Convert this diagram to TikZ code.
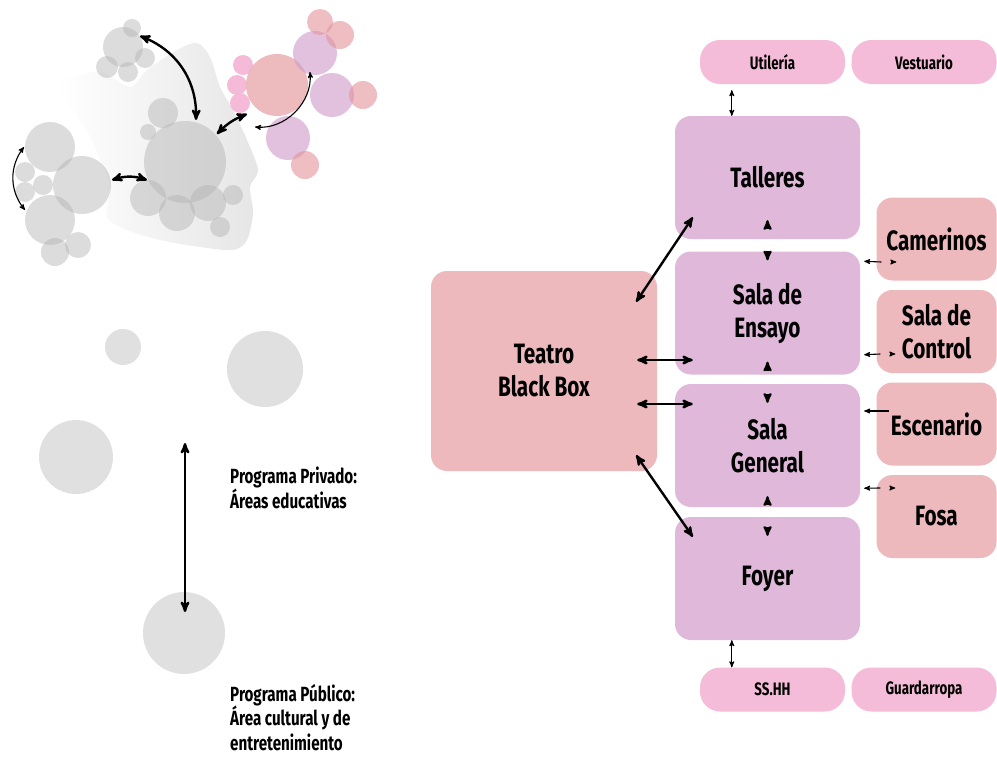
\documentclass[tikz,border=0pt]{standalone}
\usepackage{fontspec}
\setmainfont{Fira Sans}[FakeStretch=0.74]
\usetikzlibrary{arrows,calc}
\definecolor{pill}{HTML}{F4BCD8}
\definecolor{lila}{HTML}{E0B9DA}
\definecolor{rosa}{HTML}{EDB9BC}
\definecolor{gris}{HTML}{E0E0E0}
\definecolor{rojo}{HTML}{E2939B}
\definecolor{malva}{HTML}{CF98C8}
\definecolor{rosado}{HTML}{F4BAD8}

\begin{document}
\begin{tikzpicture}[x=1pt,y=-1pt,>=stealth',
  sala/.style={fill=lila,rounded corners=16pt,align=center,inner sep=0pt,
    minimum width=185pt,minimum height=123pt,font=\fontsize{28}{33}\selectfont\bfseries},
  anexo/.style={fill=rosa,rounded corners=16pt,align=center,inner sep=0pt,
    minimum width=120pt,minimum height=83pt,font=\fontsize{28}{33}\selectfont\bfseries},
  pildora/.style={fill=pill,rounded corners=20pt,inner sep=0pt,
    minimum width=145pt,minimum height=44pt,font=\fontsize{18}{21}\selectfont\bfseries},
  etiqueta/.style={align=left,inner sep=0pt,font=\fontsize{20.5}{24.5}\selectfont\bfseries},
  flecha/.style={<->,line width=2.4pt},
  punta/.style={->,line width=2.2pt,shorten <=0pt},
  fina/.style={line width=1.1pt},
  burbuja/.style={fill=black!30,fill opacity=0.45}]
\useasboundingbox (0,0) rectangle (997,756);

% esquema de burbujas
\shade[left color=white,right color=black!10]
  plot[smooth cycle] coordinates {(63,80) (100,72) (130,87) (147,70) (177,50) (197,43)
  (210,57) (220,87) (233,110) (247,140) (258,170) (250,187) (253,213) (247,240)
  (233,250) (200,247) (160,240) (127,230) (107,217) (110,187) (100,160) (87,130)
  (67,103) (58,88)};
\foreach \x/\y/\r in {123/47/20, 132/28/9, 107/67/11, 128/72/10, 145/58/10,
    50/147/25, 82/185/29, 25/172/10, 25/192/10, 43/185/10, 50/220/25, 55/252/14, 78/245/13,
    185/162/41, 163/113/15, 148/132/8, 148/198/18, 177/213/18, 208/203/18, 233/195/10, 220/227/10}
  \fill[burbuja] (\x,\y) circle (\r pt);
\foreach \x/\y in {243/65, 237/85, 240/103}
  \fill[rosado] (\x,\y) circle (10pt);
\fill[rosa!85!rojo,fill opacity=0.9] (277,85) circle (31pt);
\foreach \x/\y in {315/53, 332/95, 288/138}
  \fill[malva,fill opacity=0.6] (\x,\y) circle (22pt);
\foreach \x/\y/\r in {320/22/13, 340/35/14, 363/95/14, 305/165/14}
  \fill[rojo,fill opacity=0.6] (\x,\y) circle (\r pt);

\draw[flecha] (140,36) to[bend left=35] (196,120);
\draw[flecha] (217,134) to[bend left=12] (247,114);
\draw[flecha] (112,180) to[bend left=18] (147,180);
\draw[<->,fina] (24,147) to[bend right=38] (25,210);
\draw[<->,fina] (310,72) to[bend left=50] (255,127);

% programa privado / publico
\foreach \x/\y/\r in {123/347/18, 265/369/38, 76/457/37, 184/633/41}
  \fill[gris] (\x,\y) circle (\r pt);
\draw[flecha] (185,443) -- (185,612);
\node[etiqueta,anchor=base west] (privado) at (230,508) {Programa Privado:\\Áreas educativas};
\node[etiqueta,anchor=base west] (publico) at (230,750) {Programa Público:\\Área cultural y de\\entretenimiento};

% organigrama
\node[sala,fill=rosa,minimum width=226pt,minimum height=200pt] (teatro) at (544,371) {Teatro\\Black Box};
\node[sala] (talleres) at (767.5,177.5) {Talleres};
\node[sala] (ensayo) at (767.5,313) {Sala de\\Ensayo};
\node[sala] (general) at (767.5,445.5) {Sala\\General};
\node[sala] (foyer) at (767.5,578.5) {Foyer};
\node[anexo] (camerinos) at (936.5,239) {Camerinos};
\node[anexo] (control) at (936.5,331.5) {Sala de\\Control};
\node[anexo] (escenario) at (936.5,424) {Escenario};
\node[anexo] (fosa) at (936.5,516.5) {Fosa};
\node[pildora] (utileria) at (772.5,62) {Utilería};
\node[pildora] (vestuario) at (924,62) {Vestuario};
\node[pildora] (sshh) at (772.5,689.5) {SS.HH};
\node[pildora] (guardarropa) at (924,689.5) {Guardarropa};

\draw[flecha] ($(teatro.north east)+(-21,31)$) -- ($(talleres.south west)+(18,-22)$);
\draw[flecha] ($(teatro.east)+(-20,-11)$) -- ($(ensayo.west)+(18,47)$);
\draw[flecha] ($(teatro.east)+(-20,33)$) -- ($(general.west)+(18,-41.5)$);
\draw[flecha] ($(teatro.south east)+(-21,-16)$) -- ($(foyer.north west)+(18,20)$);

\draw[punta] ($(talleres.south)+(0,-10)$) -- ($(talleres.south)+(0,-19)$);
\draw[punta] ($(ensayo.north)+(0,0)$) -- ($(ensayo.north)+(0,9)$);
\draw[punta] ($(ensayo.south)+(0,-4)$) -- ($(ensayo.south)+(0,-13)$);
\draw[punta] ($(general.north)+(0,10)$) -- ($(general.north)+(0,19)$);
\draw[punta] ($(general.south)+(0,-2)$) -- ($(general.south)+(0,-11)$);
\draw[punta] ($(foyer.north)+(0,10)$) -- ($(foyer.north)+(0,19)$);

\draw[<->,fina] ($(utileria.south west)+(32,6)$) -- ($(talleres.north west)+(57,0)$);
\draw[<->,fina] ($(foyer.south west)+(57,0)$) -- ($(sshh.north west)+(32,0)$);

\draw[<-,fina] ($(ensayo.north east)+(4,10)$) -- ($(camerinos.west)+(5,23)$);
\draw[->,fina] ($(camerinos.west)+(16,23)$) -- ($(camerinos.west)+(20,23)$);
\draw[<-,fina] ($(ensayo.south east)+(4,-20)$) -- ($(control.west)+(4,22.5)$);
\draw[->,fina] ($(control.west)+(15,22.5)$) -- ($(control.west)+(19,22.5)$);
\draw[<-,fina] ($(general.east)+(4,-34.5)$) -- ($(escenario.west)+(13,-13)$);
\draw[<-,fina] ($(general.south east)+(4,-19)$) -- ($(fosa.west)+(4,-28.5)$);
\draw[->,fina] ($(fosa.west)+(15,-28.5)$) -- ($(fosa.west)+(19,-28.5)$);
\end{tikzpicture}
\end{document}
